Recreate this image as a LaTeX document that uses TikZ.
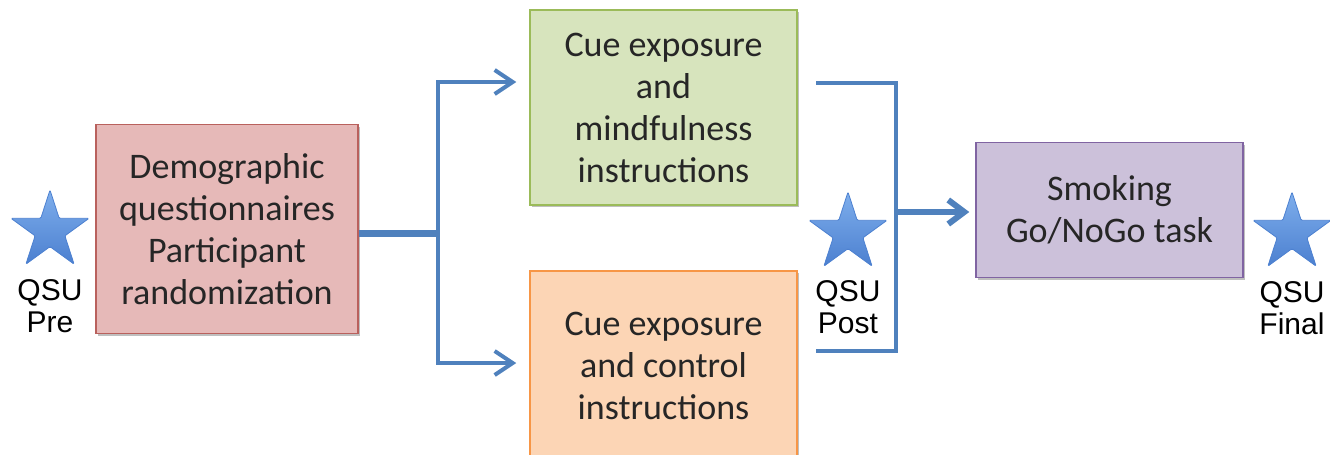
\documentclass[tikz,border=0pt]{standalone}
\usepackage{fontspec}
\newfontfamily\boxfont{Carlito}
\newfontfamily\qsufont{Liberation Sans}
\usetikzlibrary{positioning}
\usetikzlibrary{shapes.geometric}
\usetikzlibrary{arrows.meta}
\usetikzlibrary{shadows}
\definecolor{flowblue}{HTML}{4F81BD}
\definecolor{startop}{HTML}{7EAEEC}
\definecolor{starbot}{HTML}{4C80D0}
\definecolor{demofill}{HTML}{E6B9B8}
\definecolor{demoline}{HTML}{B9615D}
\definecolor{mindfill}{HTML}{D7E4BD}
\definecolor{mindline}{HTML}{9BBB59}
\definecolor{ctrlfill}{HTML}{FCD5B5}
\definecolor{ctrlline}{HTML}{F79646}
\definecolor{taskfill}{HTML}{CCC1DA}
\definecolor{taskline}{HTML}{8064A2}
\tikzset{
    stepbox/.style={rectangle, draw, line width=0.75pt, align=center,
        font=\boxfont\fontsize{18}{21}\selectfont, text=black!85, inner sep=0pt,
        minimum width=133.5pt,
        drop shadow={shadow xshift=1.2pt, shadow yshift=-1.2pt, opacity=0.25, fill=black}},
    qsustar/.style={star, star points=5, star point ratio=2.62, minimum size=41pt,
        inner sep=0pt, draw=starbot, line width=0.4pt, rounded corners=0.6pt,
        top color=startop, bottom color=starbot},
    qsulabel/.style={align=center, font=\qsufont\fontsize{15}{16}\selectfont, inner sep=0pt},
    flow/.style={draw=flowblue, line width=2pt},
    flowtip/.style={-{Straight Barb[length=9pt, width=12pt, line width=2pt]}}
}
\begin{document}
\begin{tikzpicture}[x=0.5pt, y=-0.5pt]
    \useasboundingbox (0,0) rectangle (1330,455);
    \clip (0,0) rectangle (1330,455);

    \node [stepbox, fill=demofill, draw=demoline, minimum width=131pt, minimum height=104.5pt]
        (demo) at (227,229) {Demographic\\questionnaires\\Participant\\randomization};
    \node [stepbox, fill=mindfill, draw=mindline, minimum height=97.5pt]
        (mind) at (663.5,107.5) {Cue exposure\\and\\mindfulness\\instructions};
    \node [stepbox, fill=ctrlfill, draw=ctrlline, minimum height=94.5pt]
        (ctrl) at (663.5,365.5) {Cue exposure\\and control\\instructions};
    \node [stepbox, fill=taskfill, draw=taskline, minimum height=67.5pt]
        (task) at (1109.5,210) {Smoking\\Go/NoGo task};

    \node [qsustar] (prestar) at (50,231) {};
    \node [qsulabel] (pre) at (50,306) {QSU\\Pre};
    \node [qsustar] (poststar) at (848,233) {};
    \node [qsulabel] (post) at (848,307) {QSU\\Post};
    \node [qsustar] (finalstar) at (1292,233) {};
    \node [qsulabel] (final) at (1292,308) {QSU\\Final};

    \coordinate (split) at (438,233);
    \coordinate (splittop) at (438,82);
    \coordinate (splitbot) at (438,363);
    \coordinate (join) at (896,212);
    \coordinate (jointop) at (896,83);
    \coordinate (joinbot) at (896,351);

    \path [flow, line width=3.5pt] (demo.east |- split) -- ([xshift=1pt]split);
    \path [flow, flowtip] (splitbot) -- (splittop) -- ([xshift=-6.5pt]mind.west |- splittop);
    \path [flow, flowtip] (split) -- (splitbot) -- ([xshift=-6.5pt]ctrl.west |- splitbot);
    \path [flow, line cap=rect] ([xshift=10pt]mind.east |- jointop) -- (jointop) -- (joinbot)
        -- ([xshift=10pt]ctrl.east |- joinbot);
    \path [flow, line width=3pt, -{Straight Barb[length=8pt, width=12pt, line width=3pt]}]
        (join) -- ([xshift=-3pt]task.west |- join);
\end{tikzpicture}
\end{document}
